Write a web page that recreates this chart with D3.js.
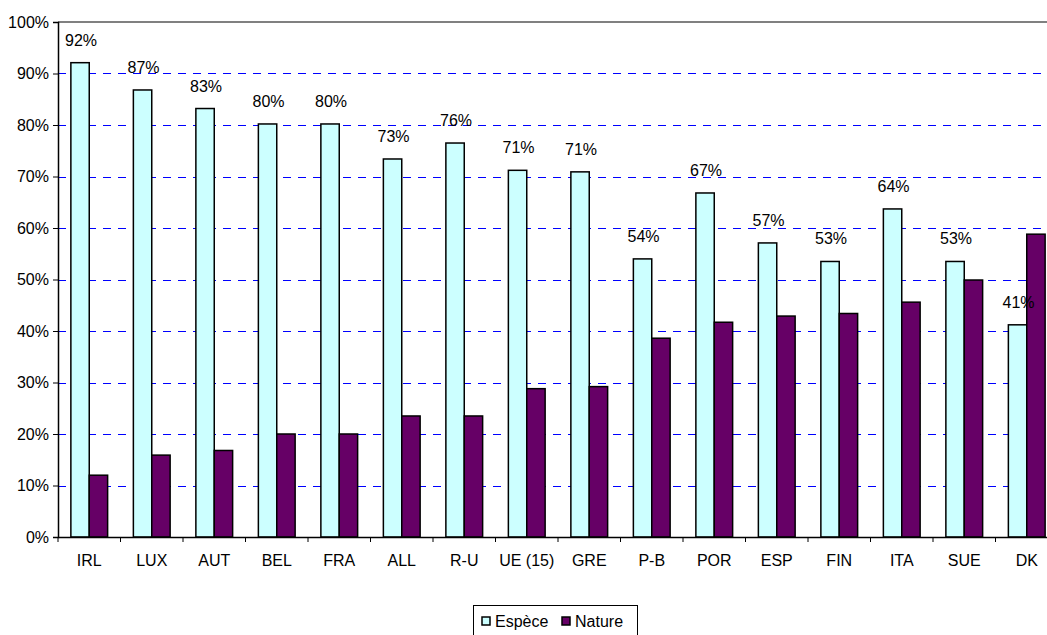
<!DOCTYPE html>
<html>
<head>
<meta charset="utf-8">
<script src="https://cdn.jsdelivr.net/npm/d3@7"></script>
<style>
  html, body { margin: 0; padding: 0; background: #fff; overflow: hidden; }
  svg { display: block; font-family: "Liberation Sans", Arial, sans-serif; }
</style>
</head>
<body>
<svg id="chart" width="1047" height="635"></svg>
<script>
const categories = ["IRL","LUX","AUT","BEL","FRA","ALL","R-U","UE (15)","GRE","P-B","POR","ESP","FIN","ITA","SUE","DK"];
const espece = [92.1, 86.8, 83.2, 80.2, 80.2, 73.4, 76.5, 71.2, 70.9, 54.0, 66.8, 57.1, 53.5, 63.7, 53.5, 41.2];
const nature = [12.0, 15.9, 16.8, 20.0, 20.0, 23.5, 23.5, 28.8, 29.2, 38.6, 41.7, 42.9, 43.4, 45.6, 49.9, 58.8];
const especeLabels = ["92%","87%","83%","80%","80%","73%","76%","71%","71%","54%","67%","57%","53%","64%","53%","41%"];
const seriesNames = ["Espèce","Nature"];
const seriesColors = ["#ccffff","#660066"];
const yTicks = [0,10,20,30,40,50,60,70,80,90,100];

const svg = d3.select("#chart");
const mLeft = 58, mRight = 1058, mTop = 22, mBottom = 537;

const x0 = d3.scaleBand().domain(categories).range([mLeft, mRight]).padding(0);
const x1 = d3.scaleBand().domain(seriesNames).range([0, x0.bandwidth()]).paddingInner(0).paddingOuter(0.7);
const y = d3.scaleLinear().domain([0, 100]).range([mBottom, mTop]);

// gridlines
const grid = svg.append("g");
grid.selectAll("line.g").data(yTicks.filter(t => t > 0 && t < 100)).enter().append("line")
  .attr("x1", mLeft).attr("x2", 1047)
  .attr("y1", d => Math.round(y(d)) + 0.5).attr("y2", d => Math.round(y(d)) + 0.5)
  .attr("stroke", "#0000ff").attr("stroke-width", 1).attr("stroke-dasharray", "8,7");
grid.append("line")
  .attr("x1", mLeft).attr("x2", 1047)
  .attr("y1", y(100)).attr("y2", y(100))
  .attr("stroke", "#808080").attr("stroke-width", 2);

// bars
const data = categories.map((c, i) => ({ c, vals: [espece[i], nature[i]] }));
const groups = svg.append("g").selectAll("g").data(data).enter().append("g")
  .attr("transform", d => `translate(${x0(d.c)},0)`);
groups.selectAll("rect").data(d => d.vals.map((v, j) => ({ v, s: seriesNames[j], j }))).enter().append("rect")
  .attr("x", d => x1(d.s))
  .attr("y", d => y(d.v))
  .attr("width", x1.bandwidth())
  .attr("height", d => y(0) - y(d.v))
  .attr("fill", d => seriesColors[d.j])
  .attr("stroke", "#000").attr("stroke-width", 1.5);

// value labels
svg.append("g").selectAll("text").data(data).enter().append("text")
  .attr("x", (d) => x0(d.c) + x1("Espèce") + x1.bandwidth() / 2 + 1)
  .attr("y", (d, i) => y(espece[i]) - 17)
  .attr("text-anchor", "middle")
  .attr("font-size", "16px").attr("fill", "#000")
  .text((d, i) => especeLabels[i]);

// y axis
const yAxis = d3.axisLeft(y).tickValues(yTicks).tickFormat(d => d + "%").tickSize(5).tickPadding(4);
const ya = svg.append("g").attr("transform", `translate(${mLeft},0)`).call(yAxis);
ya.select(".domain").attr("stroke", "#000").attr("stroke-width", 1.5);
ya.selectAll(".tick line").attr("stroke", "#000");
ya.selectAll(".tick text").attr("font-size", "16px").attr("font-family", "Liberation Sans, Arial, sans-serif").attr("fill", "#000");

// x axis
const xAxis = d3.axisBottom(x0).tickSize(0).tickPadding(18);
const xa = svg.append("g").attr("transform", `translate(0,${mBottom})`).call(xAxis);
xa.select(".domain").attr("stroke", "#000").attr("stroke-width", 1.5);
xa.selectAll(".tick text").attr("font-size", "16px").attr("font-family", "Liberation Sans, Arial, sans-serif").attr("fill", "#000");
svg.append("g").selectAll("line").data(categories).enter().append("line")
  .attr("x1", d => x0(d)).attr("x2", d => x0(d))
  .attr("y1", mBottom).attr("y2", mBottom + 5)
  .attr("stroke", "#000").attr("stroke-width", 1);

// legend
const lg = svg.append("g");
lg.append("rect").attr("x", 473.5).attr("y", 605.5).attr("width", 164).attr("height", 40)
  .attr("fill", "#fff").attr("stroke", "#000").attr("stroke-width", 1);
const legX = [482, 562];
seriesNames.forEach((s, i) => {
  lg.append("rect").attr("x", legX[i]).attr("y", 617).attr("width", 8).attr("height", 8)
    .attr("fill", seriesColors[i]).attr("stroke", "#000").attr("stroke-width", 1.5);
  lg.append("text").attr("x", legX[i] + 13).attr("y", 627)
    .attr("font-size", "16px").attr("fill", "#000").text(s);
});
</script>
</body>
</html>
